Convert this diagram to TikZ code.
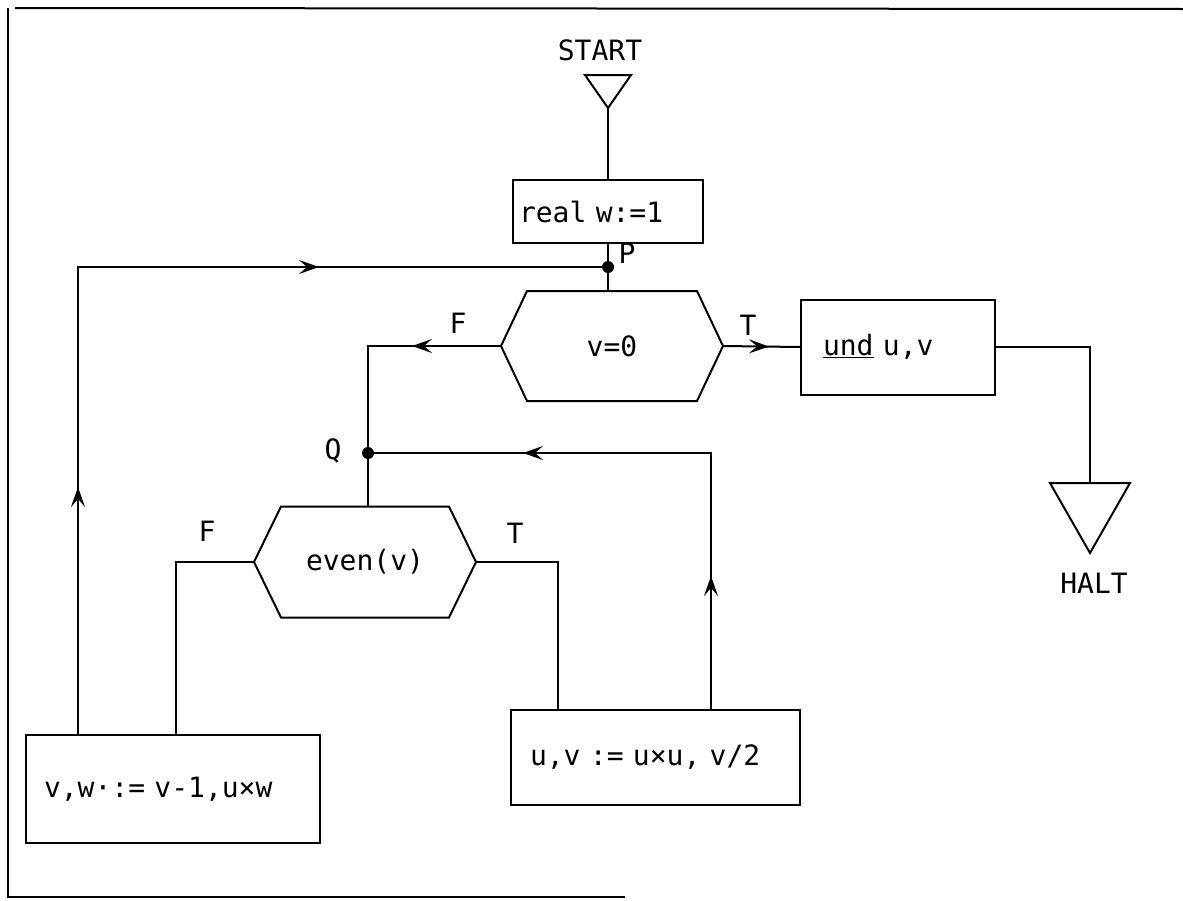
\documentclass[tikz,border=0pt]{standalone}
\usepackage{fontspec}
\setmonofont{DejaVu Sans Mono}
\usetikzlibrary{arrows.meta,decorations.markings}
\newcommand{\flowtip}{\arrow{Stealth[length=20pt,width=14pt,inset=8pt]}}
\begin{document}
\begin{tikzpicture}[x=1pt,y=-1pt,line width=2pt,
  every node/.style={font=\ttfamily\fontsize{28}{32}\selectfont},
  procbox/.style={draw,align=left,inner xsep=#1,inner ysep=0pt},
  hexnode/.style={draw=none,inner sep=0pt,minimum width=220pt,minimum height=108pt},
  junction/.style={circle,fill,inner sep=0pt,minimum size=12pt},
  lbl/.style={inner sep=0pt},
  marked/.style={postaction={decorate},decoration={markings,#1}}]
\useasboundingbox (0,0) rectangle (1183,900);
% frame
\draw (15,8) -- (1183,9);
\draw (8,8) -- (8,898);
\draw (8,897) -- (625,897);
% start
\node[lbl] (starttxt) at (600,50) {START};
\coordinate (sapex) at (608,108);
\draw (585,75) -- (631,75) -- (sapex) -- cycle;
% boxes
\node[procbox=6pt,minimum width=190pt,minimum height=63pt,text width=178pt] (real) at (608,211.5) {real w:=1};
\node[procbox=22pt,minimum width=194pt,minimum height=95pt,text width=150pt] (und) at (898,347) {\underline{und} u,v};
\node[procbox=18pt,minimum width=294pt,minimum height=108pt,text width=258pt] (left) at (173,789) {v,w·:= v-1,u×w};
\node[procbox=19pt,minimum width=289pt,minimum height=95pt,text width=251pt] (right) at (655.5,757.5) {u,v := u×u, v/2};
% decisions
\node[hexnode] (v0) at (612,346) {v=0};
\draw ([xshift=26pt]v0.north west) -- ([xshift=-26pt]v0.north east) -- (v0.east)
  -- ([xshift=-26pt]v0.south east) -- ([xshift=26pt]v0.south west) -- (v0.west) -- cycle;
\node[hexnode,minimum height=109pt] (ev) at (365,562) {even(v)};
\draw ([xshift=27pt]ev.north west) -- ([xshift=-27pt]ev.north east) -- (ev.east)
  -- ([xshift=-27pt]ev.south east) -- ([xshift=27pt]ev.south west) -- (ev.west) -- cycle;
% junctions
\node[junction] (P) at (608,267) {};
\node[junction] (Q) at (368,453) {};
\node[lbl] (Plbl) at (627,253) {P};
\node[lbl] (Qlbl) at (333,451) {Q};
% halt
\coordinate (htop) at (1090,483);
\draw (1050,483) -- (1130,483) -- (1090,553) -- cycle;
\node[lbl] (halttxt) at (1094,583) {HALT};
% branch labels
\node[lbl] (F1) at (458,323) {F};
\node[lbl] (T1) at (748,325) {T};
\node[lbl] (F2) at (207,531) {F};
\node[lbl] (T2) at (515,533) {T};
% helper columns
\coordinate (lf) at (176,0);
\coordinate (rt) at (558,0);
\coordinate (lu) at (78,0);
\coordinate (ru) at (711,0);
% connectors
\draw (sapex) -- (real.north);
\draw (real.south) -- (P.center) -- (P.center |- v0.north);
\draw[marked={mark=at position 89pt with {\flowtip}}] (v0.west) -- (v0.west -| Q) -- (Q.center);
\draw (Q.center) -- (Q.center |- ev.north);
\draw (ev.west) -- (ev.west -| lf) -- (lf |- left.north);
\draw (ev.east) -- (ev.east -| rt) -- (rt |- right.north);
\draw[marked={mark=at position 247pt with {\flowtip},mark=at position 708pt with {\flowtip}}]
  (lu |- left.north) -- (lu |- P) -- (P.center);
\draw[marked={mark=at position 133pt with {\flowtip},mark=at position 444pt with {\flowtip}}]
  (ru |- right.north) -- (ru |- Q) -- (Q.center);
\draw[marked={mark=at position 46pt with {\flowtip}}] (v0.east) -- (und.west);
\draw (und.east) -- (und.east -| htop) -- (htop);
\end{tikzpicture}
\end{document}
